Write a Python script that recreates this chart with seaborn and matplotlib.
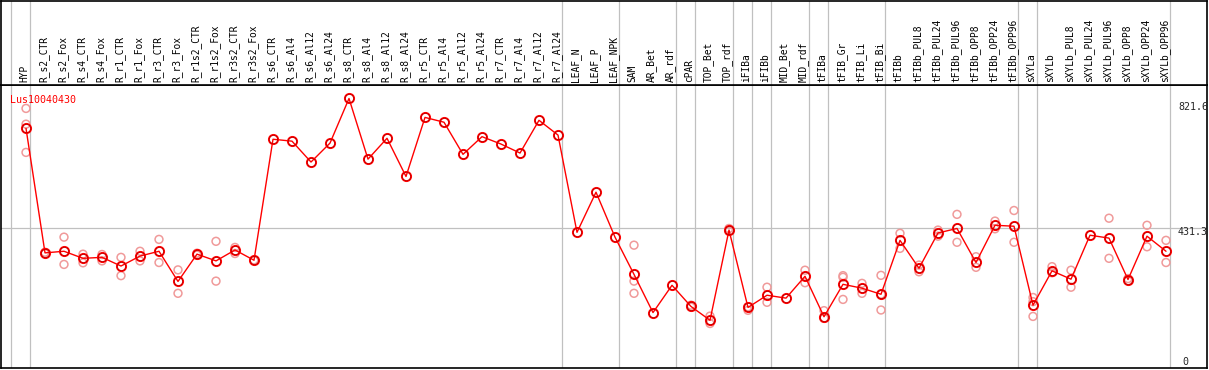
import numpy as np
import pandas as pd
import seaborn as sns
import matplotlib
matplotlib.use('Agg')
import matplotlib.pyplot as plt
import matplotlib.transforms as mtransforms

# sample names in chart order
samples = ['HYP', 'R_s2_CTR', 'R_s2_Fox', 'R_s4_CTR', 'R_s4_Fox', 'R_r1_CTR', 'R_r1_Fox',
           'R_r3_CTR', 'R_r3_Fox', 'R_r1s2_CTR', 'R_r1s2_Fox', 'R_r3s2_CTR', 'R_r3s2_Fox',
           'R_s6_CTR', 'R_s6_Al4', 'R_s6_Al12', 'R_s6_Al24', 'R_s8_CTR', 'R_s8_Al4',
           'R_s8_Al12', 'R_s8_Al24', 'R_r5_CTR', 'R_r5_Al4', 'R_r5_Al12', 'R_r5_Al24',
           'R_r7_CTR', 'R_r7_Al4', 'R_r7_Al12', 'R_r7_Al24', 'LEAF_N', 'LEAF_P', 'LEAF_NPK',
           'SAM', 'AR_Bet', 'AR_rdf', 'cPAR', 'TOP_Bet', 'TOP_rdf', 'iFIBa', 'iFIBb',
           'MID_Bet', 'MID_rdf', 'tFIBa', 'tFIB_Gr', 'tFIB_Li', 'tFIB_Bi', 'tFIBb',
           'tFIBb_PUL8', 'tFIBb_PUL24', 'tFIBb_PUL96', 'tFIBb_OPP8', 'tFIBb_OPP24',
           'tFIBb_OPP96', 'sXYLa', 'sXYLb', 'sXYLb_PUL8', 'sXYLb_PUL24', 'sXYLb_PUL96',
           'sXYLb_OPP8', 'sXYLb_OPP24', 'sXYLb_OPP96']

# mean expression per sample
means = [743, 355, 360, 338, 341, 314, 345, 360, 266, 351, 330, 364, 332,
         709, 703, 638, 697, 836, 647, 712, 593, 777, 762, 662, 717,
         694, 666, 768, 722, 419, 544, 404,
         288, 169, 254, 188, 145, 426, 185, 223, 214, 282, 156, 257, 245, 226,
         394, 307, 417, 431, 325, 441, 438,
         192, 299, 273, 410, 401, 272, 407, 360]

nan = np.nan
# replicate values (nan = no replicate shown)
rep_a = [805, 357, 404, 351, 350, 341, 360, 397, 302, 354, 391, 372, 333,
         nan, nan, nan, nan, nan, nan, nan, nan, nan, nan, nan, nan,
         nan, nan, nan, nan, nan, nan, nan,
         379, nan, nan, 192, 158, 431, 187, 248, nan, 301, 175, 284, 260, 285,
         416, 317, 426, 475, 343, 454, 487,
         216, 312, 301, nan, 463, 275, 441, 394]
rep_b = [756, 353, 319, 324, 330, 284, 330, 325, 229, 348, 267, 353, 331,
         nan, nan, nan, nan, nan, nan, nan, nan, nan, nan, nan, nan,
         nan, nan, nan, nan, nan, nan, nan,
         267, nan, nan, 186, 135, 422, 176, 201, nan, 262, 151, 279, 229, 226,
         369, 296, 407, 388, 310, 430, 388,
         203, 293, 248, nan, 338, 268, 374, 325]
rep_c = [668, nan, nan, nan, nan, nan, nan, nan, nan, nan, nan, nan, nan,
         nan, nan, nan, nan, nan, nan, nan, nan, nan, nan, nan, nan,
         nan, nan, nan, nan, nan, nan, nan,
         229, nan, nan, nan, nan, nan, nan, nan, nan, nan, nan, 210, nan, 177,
         nan, nan, nan, nan, nan, nan, nan,
         157, nan, nan, nan, nan, nan, nan, nan]

# group separators drawn just after these sample positions
separators = [-1, 0, 28, 31, 34, 35, 37, 38, 39, 41, 42, 45, 52, 53, 60]
ref_value = 431.3
right_labels = ['821.6', '431.3', '0']
right_values = [821.6, 431.3, 0]
gene = 'Lus10040430'

sns.set_style('white')
plt.rcParams['font.family'] = ['DejaVu Sans Mono', 'DejaVu Sans']

x = np.arange(len(samples))
df = pd.DataFrame({'pos': x, 'sample': samples, 'mean': means})
reps = pd.DataFrame({'pos': np.tile(x, 3), 'value': rep_a + rep_b + rep_c}).dropna()

W, H = 1209, 370
fig = plt.figure(figsize=(W / 100, H / 100), dpi=100)
ax = fig.add_axes([1 / W, 2 / H, 1206 / W, 283 / H])
top = fig.add_axes([1 / W, 285 / H, 1206 / W, 84 / H], sharex=ax)

ax.set_xlim((1 - 26) / 19, (1207 - 26) / 19)
ax.set_ylim(-3.7, 878)
top.set_ylim(0, 1)

grey = '#c0c0c0'
for s in separators:
    ax.axvline(s + 0.21, color=grey, lw=0.9, zorder=1)
    top.axvline(s + 0.21, color=grey, lw=0.9, zorder=1)
ax.axhline(ref_value, color=grey, lw=0.9, zorder=1)

# replicates
sns.scatterplot(data=reps, x='pos', y='value', ax=ax, marker='o', s=32,
                facecolors='none', edgecolor='#f09a9a', linewidth=1.1, zorder=2, legend=False)
# mean line
sns.lineplot(data=df, x='pos', y='mean', ax=ax, color='red', lw=1, zorder=3,
             marker='o', markersize=6.6, markerfacecolor='none', markeredgecolor='red',
             markeredgewidth=1.4)
ax.plot(df['pos'], df['mean'], ls='none', marker='o', markersize=6.0,
        markerfacecolor='none', markeredgecolor='black', markeredgewidth=0.4,
        alpha=0.35, zorder=4)

for pos, name in zip(x, samples):
    top.text(pos - 0.08, 0.03, name, rotation=90, ha='center', va='bottom',
             fontsize=6.9, color='black')

ax.text(10, 270, gene, transform=None, color='red', fontsize=7.2, va='center', ha='left')

# right-hand value labels: x in pixels, y in data units
trans = mtransforms.blended_transform_factory(fig.dpi_scale_trans, ax.transData)
for lab, val in zip(right_labels, right_values):
    yy = val - 12 if val > 0 else 15
    xx = (1178 if val > 0 else 1182) / 100
    ax.text(xx, yy, lab, transform=trans, fontsize=7.2, va='center', ha='left', clip_on=True)

for a in (ax, top):
    a.set_xlabel('')
    a.set_ylabel('')
    a.set_xticks([])
    a.set_yticks([])
    for sp in a.spines.values():
        sp.set_color('black')
        sp.set_linewidth(1.2)
        sp.set_visible(True)

fig.savefig('out.png', dpi=100)
